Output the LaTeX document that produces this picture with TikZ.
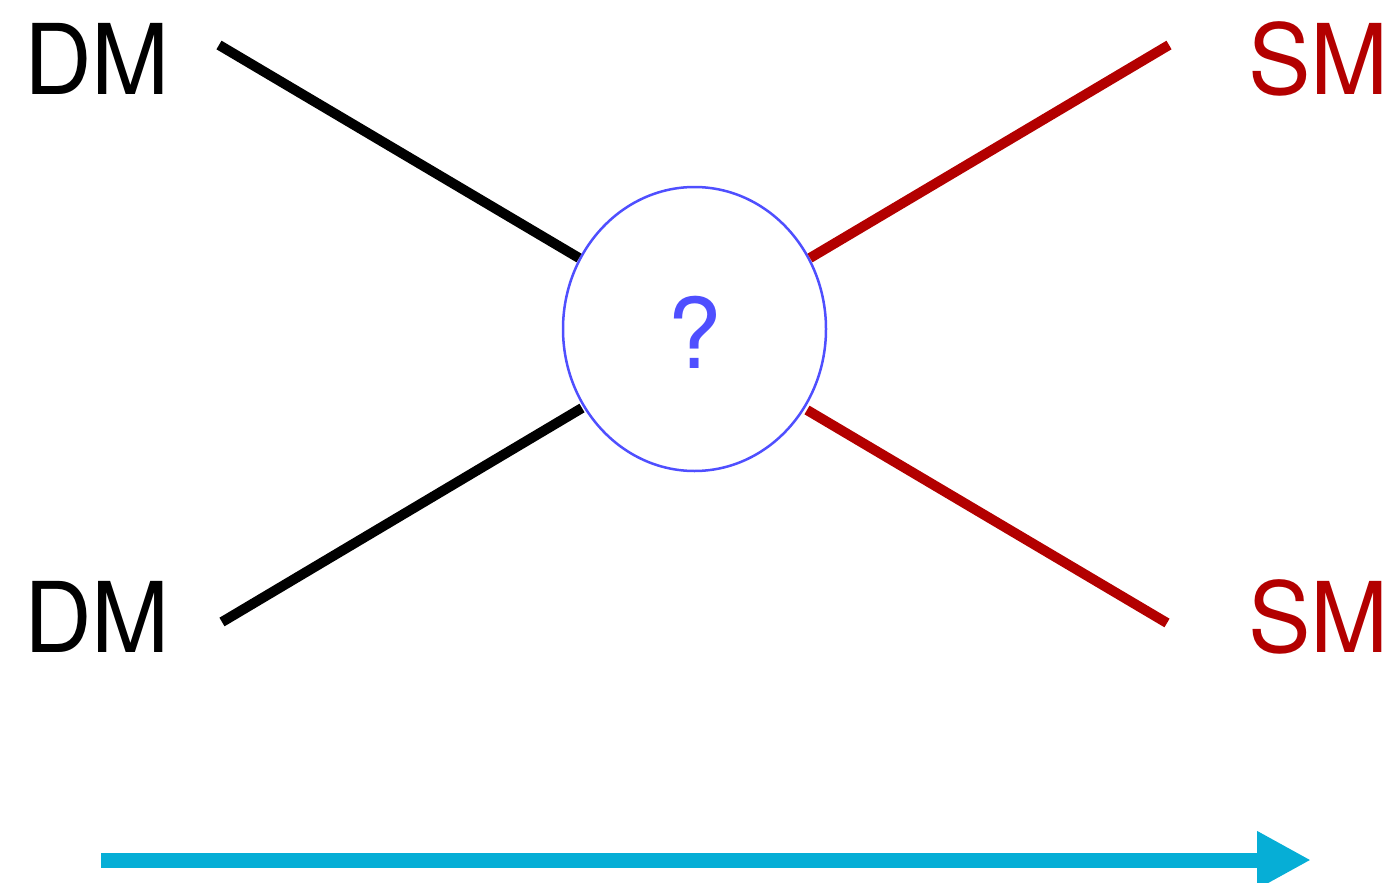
\documentclass[tikz,border=0pt]{standalone}
\usepackage{fontspec}
\setmainfont{TeX Gyre Heros}
\usetikzlibrary{shapes.geometric,arrows.meta}
\definecolor{smred}{HTML}{B30000}
\definecolor{qblue}{HTML}{4F4FFF}
\definecolor{arrowcyan}{HTML}{06AED6}
\tikzset{
  biglabel/.style={inner sep=0pt, font=\fontsize{97.6}{100}\selectfont},
  dmline/.style={line width=10pt, black},
  smline/.style={line width=10pt, smred},
  vertex/.style={ellipse, draw=qblue, line width=2.5pt, minimum width=263pt, minimum height=284pt, inner sep=0pt},
  timearrow/.style={line width=15pt, arrowcyan, -{Triangle[length=54pt,width=54pt]}}
}
\begin{document}
\begin{tikzpicture}[x=1pt,y=-1pt]
\useasboundingbox (0,0) rectangle (1393,883);
% labels
\node[biglabel, anchor=base west, xscale=0.96] (dm1) at (24,95) {DM};
\node[biglabel, anchor=base west, xscale=0.96] (dm2) at (24,652) {DM};
\node[biglabel, anchor=base east, text=smred, xscale=0.96] (sm1) at (1389,95) {SM};
\node[biglabel, anchor=base east, text=smred, xscale=0.96] (sm2) at (1389,652) {SM};
% vertex
\node[vertex] (blob) at (694.5,329) {};
\node[biglabel, anchor=base, text=qblue] (q) at (694.5,368) {?};
% line end points
\coordinate (a1) at (219,45);
\coordinate (a2) at (579,258);
\coordinate (b1) at (222,622);
\coordinate (b2) at (582,408);
\coordinate (c1) at (810,258);
\coordinate (c2) at (1169,45);
\coordinate (d1) at (807,410);
\coordinate (d2) at (1167,623);
\draw[dmline] (a1) -- (a2);
\draw[dmline] (b1) -- (b2);
\draw[smline] (c1) -- (c2);
\draw[smline] (d1) -- (d2);
% arrow
\coordinate (t1) at (101,860);
\coordinate (t2) at (1311,860);
\draw[timearrow] (t1) -- (t2);
\end{tikzpicture}
\end{document}
